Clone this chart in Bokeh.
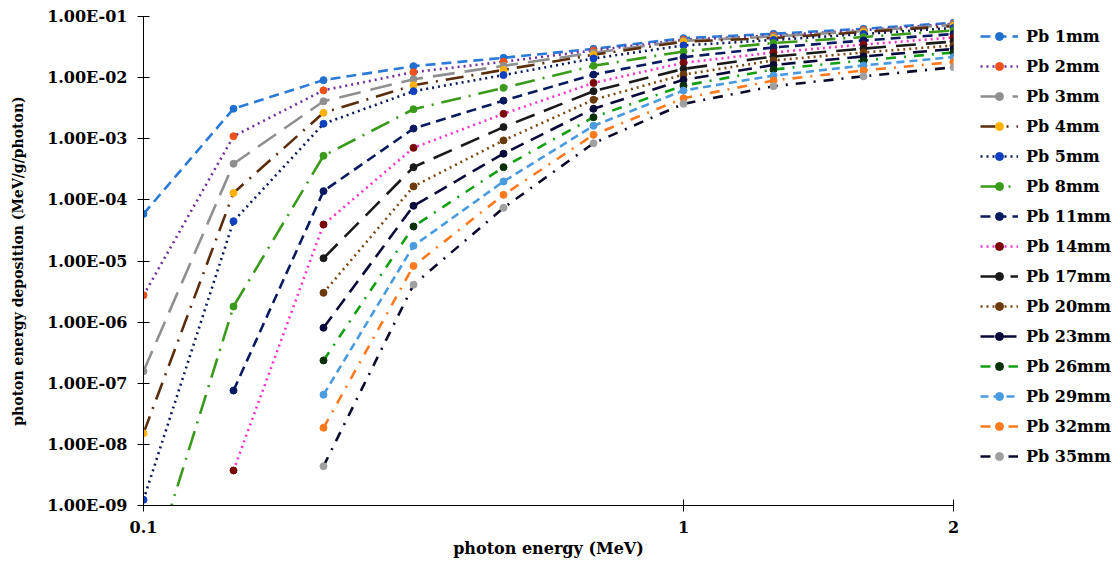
from bokeh.plotting import figure
from bokeh.models import (Range1d, FixedTicker, CustomJSTickFormatter, Legend, LegendItem, ColumnDataSource)
from bokeh.embed import file_html
from bokeh.resources import INLINE

nan = float("nan")

# photon energy categories (MeV), equally spaced on the chart
energy_labels = ["0.1", "0.15", "0.2", "0.3", "0.4", "0.5", "1", "1.25", "1.5", "2"]
shown_labels = ["0.1", "1", "2"]

y_ticks = [1e-9, 1e-8, 1e-7, 1e-6, 1e-5, 1e-4, 1e-3, 1e-2, 1e-1]

series_names = ["Pb 1mm", "Pb 2mm", "Pb 3mm", "Pb 4mm", "Pb 5mm", "Pb 8mm", "Pb 11mm",
                "Pb 14mm", "Pb 17mm", "Pb 20mm", "Pb 23mm", "Pb 26mm", "Pb 29mm",
                "Pb 32mm", "Pb 35mm"]

pb_1mm = [5.9e-5, 3.1e-3, 9.1e-3, 1.54e-2, 2.11e-2, 2.96e-2, 4.42e-2, 5.21e-2, 6.3e-2, 7.9e-2]
pb_2mm = [2.75e-6, 1.1e-3, 6.2e-3, 1.23e-2, 1.82e-2, 2.78e-2, 4.16e-2, 4.89e-2, 6.0e-2, 7.6e-2]
pb_3mm = [1.57e-7, 3.9e-4, 4.1e-3, 9.4e-3, 1.56e-2, 2.55e-2, 4.0e-2, 4.71e-2, 5.8e-2, 7.3e-2]
pb_4mm = [1.52e-8, 1.3e-4, 2.66e-3, 7.5e-3, 1.34e-2, 2.36e-2, 3.86e-2, 4.45e-2, 5.57e-2, 7.0e-2]
pb_5mm = [1.24e-9, 4.48e-5, 1.76e-3, 6.0e-3, 1.1e-2, 2.06e-2, 3.36e-2, 4.13e-2, 5.17e-2, 6.5e-2]
pb_8mm = [3.4e-11, 1.8e-6, 5.26e-4, 3.04e-3, 6.8e-3, 1.56e-2, 2.68e-2, 3.68e-2, 4.62e-2, 5.9e-2]
pb_11mm = [nan, 7.6e-8, 1.39e-4, 1.47e-3, 4.2e-3, 1.12e-2, 2.16e-2, 3.11e-2, 4.05e-2, 5.17e-2]
pb_14mm = [nan, 3.74e-9, 3.95e-5, 7.1e-4, 2.56e-3, 8.2e-3, 1.75e-2, 2.58e-2, 3.48e-2, 4.53e-2]
pb_17mm = [nan, nan, 1.11e-5, 3.43e-4, 1.55e-3, 6.0e-3, 1.39e-2, 2.22e-2, 2.99e-2, 3.9e-2]
pb_20mm = [nan, nan, 3.02e-6, 1.66e-4, 9.4e-4, 4.34e-3, 1.12e-2, 1.91e-2, 2.58e-2, 3.36e-2]
pb_23mm = [nan, nan, 8.1e-7, 8.0e-5, 5.7e-4, 3.09e-3, 9.2e-3, 1.61e-2, 2.22e-2, 2.94e-2]
pb_26mm = [nan, nan, 2.36e-7, 3.67e-5, 3.43e-4, 2.25e-3, 7.4e-3, 1.36e-2, 1.91e-2, 2.58e-2]
pb_29mm = [nan, nan, 6.5e-8, 1.77e-5, 2.0e-4, 1.63e-3, 6.15e-3, 1.08e-2, 1.58e-2, 2.17e-2]
pb_32mm = [nan, nan, 1.87e-8, 8.3e-6, 1.21e-4, 1.16e-3, 4.6e-3, 8.97e-3, 1.31e-2, 1.8e-2]
pb_35mm = [nan, nan, 4.4e-9, 4.08e-6, 7.4e-5, 8.45e-4, 3.73e-3, 7.24e-3, 1.05e-2, 1.48e-2]

series_values = [pb_1mm, pb_2mm, pb_3mm, pb_4mm, pb_5mm, pb_8mm, pb_11mm, pb_14mm,
                 pb_17mm, pb_20mm, pb_23mm, pb_26mm, pb_29mm, pb_32mm, pb_35mm]

# styles: (line colour, marker colour, dash)
styles = [
    ("#2A7AD8", "#1F6FD0", "10 6"),
    ("#7030A0", "#F0501A", "2 4"),
    ("#8F8F8F", "#8F8F8F", "22 10"),
    ("#5A2D0C", "#FFB000", "18 8 2 8"),
    ("#0A1A5A", "#1040C0", "2 4"),
    ("#3A9A1A", "#3A9A1A", "20 8 2 8"),
    ("#0A1A60", "#0A1A60", "10 6"),
    ("#FF33CC", "#7A0A0A", "2 4"),
    ("#1A1A1A", "#1A1A1A", "20 10"),
    ("#7A4A14", "#6A3A0A", "2 4"),
    ("#0A0A3A", "#0A0A3A", "14 8"),
    ("#12A012", "#0A300A", "10 8 2 8"),
    ("#4A9AE0", "#4A9AE0", "8 5"),
    ("#FF7A1E", "#FF7A1E", "10 8 2 8"),
    ("#0A0A2A", "#A0A0A0", "10 8 2 8"),
]

FONT = "DejaVu Serif"

x_index = list(range(len(energy_labels)))

p = figure(frame_width=810, frame_height=489, y_axis_type="log",
           x_range=Range1d(0, len(energy_labels) - 1), y_range=Range1d(1e-9, 1e-1),
           output_backend="svg", toolbar_location=None,
           min_border_left=143, min_border_right=10, min_border_top=16, min_border_bottom=20)
p.outline_line_color = None
p.xgrid.grid_line_color = None
p.ygrid.grid_line_color = None
p.background_fill_color = "white"
p.border_fill_color = "white"

items = []
for name, vals, (lc, mc, dash) in zip(series_names, series_values, styles):
    src = ColumnDataSource(dict(x=x_index, y=vals))
    lr = p.line("x", "y", source=src, line_color=lc, line_width=2.6, line_dash=dash)
    sr = p.scatter("x", "y", source=src, size=7, fill_color=mc, line_color=mc)
    items.append(LegendItem(label=name, renderers=[lr, sr]))

legend = Legend(items=items, location=(27, 39), glyph_width=38, glyph_height=20,
                label_height=20, spacing=10, label_standoff=8, padding=0, margin=27,
                border_line_color=None, background_fill_alpha=0,
                label_text_font=FONT, label_text_font_style="bold",
                label_text_font_size="16px", label_text_color="black")
p.add_layout(legend, "right")

tick_pos = [energy_labels.index(s) for s in shown_labels]
p.xaxis.ticker = FixedTicker(ticks=tick_pos, minor_ticks=[])
p.xaxis.major_label_overrides = {i: energy_labels[i] for i in tick_pos}
p.yaxis.ticker = FixedTicker(ticks=y_ticks, minor_ticks=[])
p.yaxis.formatter = CustomJSTickFormatter(code="""
const s = tick.toExponential(2);
const parts = s.split('e');
const sign = parts[1][0] === '-' ? '-' : '+';
let d = parts[1].replace('-', '').replace('+', '');
if (d.length < 2) d = '0' + d;
return parts[0] + 'E' + sign + d;
""")

for ax in (p.xaxis, p.yaxis):
    ax.axis_line_color = "black"
    ax.axis_line_width = 1
    ax.major_tick_line_color = "black"
    ax.major_tick_in = 6
    ax.major_tick_out = 6
    ax.minor_tick_line_color = None
    ax.major_label_text_font = FONT
    ax.major_label_text_font_style = "bold"
    ax.major_label_text_font_size = "16px"
    ax.major_label_text_color = "black"
    ax.axis_label_text_font = FONT
    ax.axis_label_text_font_style = "bold"
    ax.axis_label_text_color = "black"
    ax.major_label_standoff = 9

p.xaxis.axis_label = "photon energy (MeV)"
p.xaxis.axis_label_text_font_size = "16px"
p.xaxis.axis_label_standoff = 3
p.yaxis.axis_label = "photon energy deposition (MeV/g/photon)"
p.yaxis.axis_label_text_font_size = "14px"
p.yaxis.axis_label_standoff = 18
p.yaxis.major_label_standoff = 10

open("out.html", "w").write(file_html(p, INLINE))
